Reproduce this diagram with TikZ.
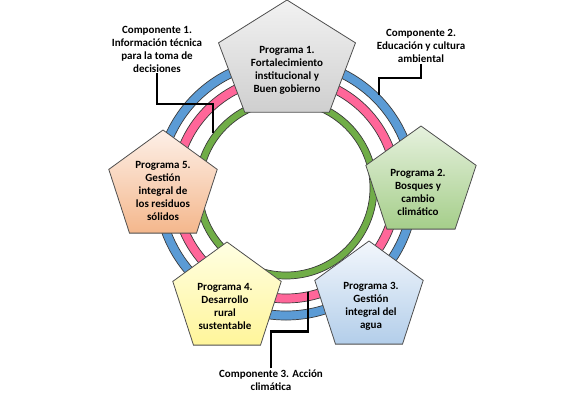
\documentclass[tikz,border=0pt]{standalone}
\usepackage{fontspec}
\setmainfont{Carlito}
\usepackage{xcolor}
\usepackage{tikz}
\usetikzlibrary{calc}
\definecolor{azul}{HTML}{5B9BD5}
\definecolor{rosa}{HTML}{FF6699}
\definecolor{verde}{HTML}{70AD47}
\definecolor{borde}{HTML}{3A3A3A}
\definecolor{grisA}{HTML}{F2F2F2}
\definecolor{grisB}{HTML}{CFCFCF}
\definecolor{verdeA}{HTML}{E6F1DE}
\definecolor{verdeB}{HTML}{A5CE8A}
\definecolor{celesteA}{HTML}{F3F7FC}
\definecolor{celesteB}{HTML}{B3CEEA}
\definecolor{amarilloA}{HTML}{FFFFE3}
\definecolor{amarilloB}{HTML}{FFF59A}
\definecolor{duraznoA}{HTML}{FDF0E8}
\definecolor{duraznoB}{HTML}{F4B78C}
\tikzset{
  anillo/.style={draw=borde,line width=0.7pt,even odd rule},
  pent/.style={draw=borde!90,line width=0.8pt},
  gris/.style={pent,top color=grisA,bottom color=grisB},
  bosque/.style={pent,top color=verdeA,bottom color=verdeB},
  agua/.style={pent,top color=celesteA,bottom color=celesteB},
  rural/.style={pent,top color=amarilloA,bottom color=amarilloB},
  residuo/.style={pent,top color=duraznoA,bottom color=duraznoB},
  txt/.style={align=center,font=\bfseries\fontsize{11}{13}\selectfont,inner sep=1pt},
  linea/.style={line width=2.2pt,black},
}
\begin{document}
\begin{tikzpicture}[x=1pt,y=1pt]
\useasboundingbox (0,0) rectangle (564,-400);
\coordinate (ctr) at (286,-188);
% anillos de los componentes
\draw[anillo,fill=azul] (ctr) circle[radius=132] circle[radius=123];
\draw[anillo,fill=rosa] (ctr) circle[radius=115] circle[radius=106];
\draw[anillo,fill=verde] (ctr) circle[radius=91] circle[radius=84];
% programas
\path[gris,shift={(287,-62)},xscale=72,yscale=62] (90:1) -- (18:1) -- (-54:1) -- (-126:1) -- (162:1) -- cycle;
\path[bosque,shift={(421,-183)},xscale=58,yscale=57] (90:1) -- (18:1) -- (-54:1) -- (-126:1) -- (162:1) -- cycle;
\path[agua,shift={(369,-298)},xscale=57,yscale=57] (90:1) -- (18:1) -- (-54:1) -- (-126:1) -- (162:1) -- cycle;
\path[rural,shift={(227,-299)},xscale=57,yscale=57] (90:1) -- (18:1) -- (-54:1) -- (-126:1) -- (162:1) -- cycle;
\path[residuo,shift={(163,-187)},xscale=57,yscale=57] (90:1) -- (18:1) -- (-54:1) -- (-126:1) -- (162:1) -- cycle;
\node[txt] (prog1) at (287,-70) {Programa 1.\\Fortalecimiento\\institucional y\\Buen gobierno};
\node[txt] (prog2) at (418,-192) {Programa 2.\\Bosques y\\cambio\\climático};
\node[txt] (prog3) at (371,-306) {Programa 3.\\Gestión\\integral del\\agua};
\node[txt] (prog4) at (225,-306) {Programa 4.\\Desarrollo\\rural\\sustentable};
\node[txt] (prog5) at (163,-191) {Programa 5.\\Gestión\\integral de\\los residuos\\sólidos};
% componentes
\node[txt] (comp1) at (157,-49) {Componente 1.\\Información técnica\\para la toma de\\decisiones};
\node[txt] (comp2) at (421,-46) {Componente 2.\\Educación y cultura\\ambiental};
\node[txt] (comp3) at (271,-380) {Componente 3. Acción\\climática};
\coordinate (p1) at ($(ctr)+(143:91)$);
\coordinate (p2) at ($(ctr)+(45:132)$);
\coordinate (p3) at ($(ctr)+(-78:106)$);
\draw[linea] (comp1.south) -- ++(0,-31) -| (p1);
\draw[linea] (comp2.south) -- ++(0,-14) -| (p2);
\draw[linea] (comp3.north) -- ++(0,37) -| (p3);
\end{tikzpicture}
\end{document}
